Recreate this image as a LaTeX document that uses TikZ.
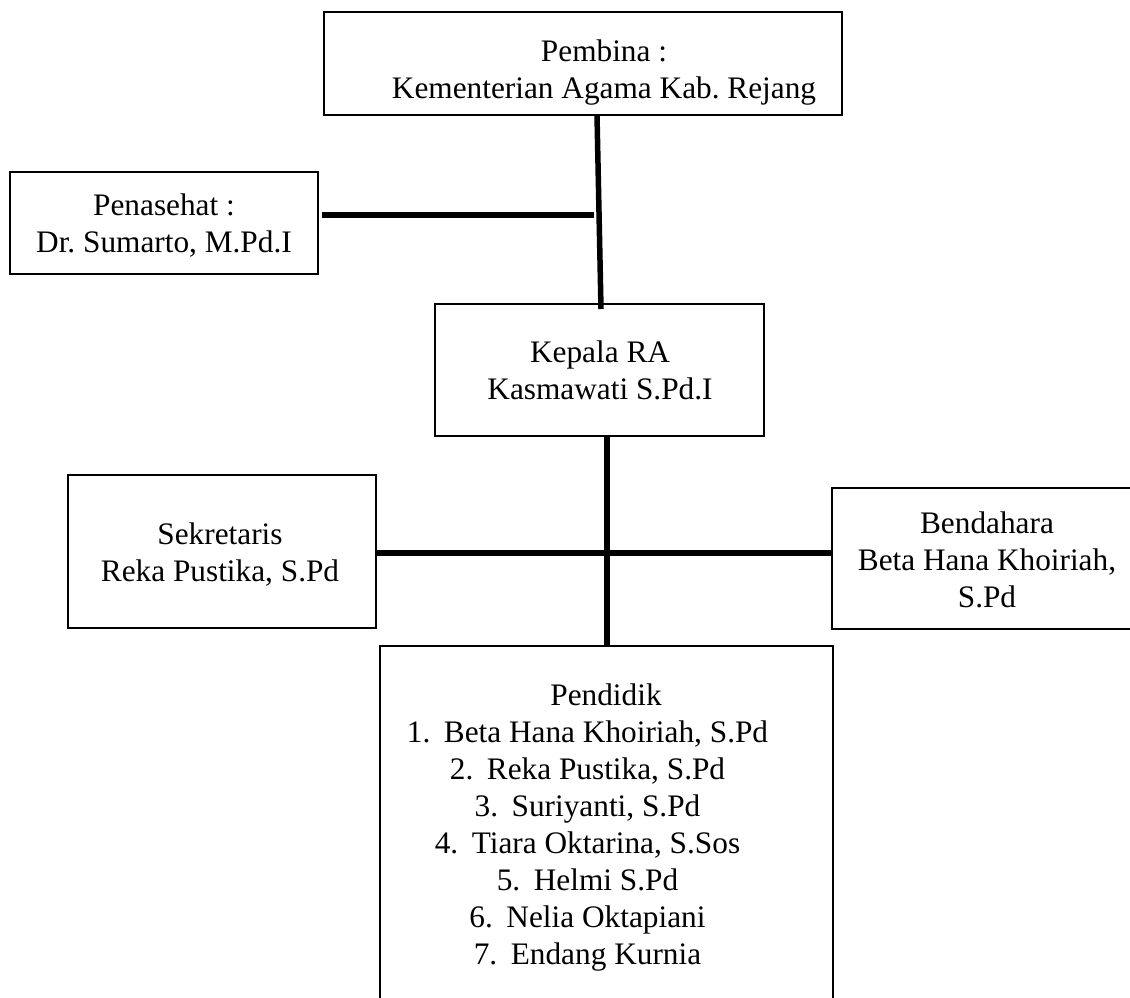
\documentclass[tikz,border=0pt]{standalone}
\usepackage{fontspec}
\setmainfont{Liberation Serif}
\frenchspacing
\begin{document}
\begin{tikzpicture}[x=1pt,y=-1pt,
  box/.style={draw, line width=2.8pt, inner sep=0pt, outer sep=0pt},
  lbl/.style={align=center, inner sep=0pt, outer sep=0pt, font=\fontsize{31.3}{37}\selectfont},
  conn/.style={line width=5.5pt}]
\useasboundingbox (0,0) rectangle (1130,998);
\fill[white] (0,0) rectangle (1130,998);
\clip (0,0) rectangle (1130,998);
% boxes
\node[box, minimum width=518pt, minimum height=103pt] (top) at (583,63.5) {};
\node[box, minimum width=308pt, minimum height=102pt] (pen) at (164,223) {};
\node[box, minimum width=329pt, minimum height=132pt] (kep) at (599.5,370) {};
\node[box, minimum width=308pt, minimum height=153pt] (sek) at (222,551.5) {};
\node[box, minimum width=310pt, minimum height=141pt] (ben) at (987,558.5) {};
\node[box, minimum width=453pt, minimum height=364pt] (pdk) at (606.5,828) {};
% texts
\node[lbl] (topT) at (604,73.1) {\strut Pembina :\\\strut Kementerian Agama Kab. Rejang};
\node[lbl] (penT) at (164,226.6) {\strut Penasehat :\\\strut Dr. Sumarto, M.Pd.I};
\node[lbl] (kepT) at (600,373.6) {\strut Kepala RA\\\strut Kasmawati S.Pd.I};
\node[lbl] (sekT) at (220,556) {\strut Sekretaris\\\strut Reka Pustika, S.Pd};
\node[lbl] (benT) at (987,562.6) {\strut Bendahara\\\strut Beta Hana Khoiriah,\\\strut S.Pd};
\node[lbl] (pdkT) at (606,827.6) {\strut Pendidik\\
  \strut\llap{\makebox[37pt][l]{1.}}Beta Hana Khoiriah, S.Pd\\
  \strut\llap{\makebox[37pt][l]{2.}}Reka Pustika, S.Pd\\
  \strut\llap{\makebox[37pt][l]{3.}}Suriyanti, S.Pd\\
  \strut\llap{\makebox[37pt][l]{4.}}Tiara Oktarina, S.Sos\\
  \strut\llap{\makebox[37pt][l]{5.}}Helmi S.Pd\\
  \strut\llap{\makebox[37pt][l]{6.}}Nelia Oktapiani\\
  \strut\llap{\makebox[37pt][l]{7.}}Endang Kurnia};
% connectors
\coordinate (j1) at (594,215);
\draw[conn] ([xshift=273pt]top.south west) -- ([xshift=166pt,yshift=-5pt]kep.north west);
\draw[conn] ([xshift=4pt,yshift=8pt]pen.east) -- (j1);
\draw[conn] ([xshift=172pt]kep.south west) -- ([xshift=227pt]pdk.north west);
\draw[conn] ([yshift=-1.5pt]sek.east) -- ([yshift=5.5pt]ben.west);
\end{tikzpicture}
\end{document}
